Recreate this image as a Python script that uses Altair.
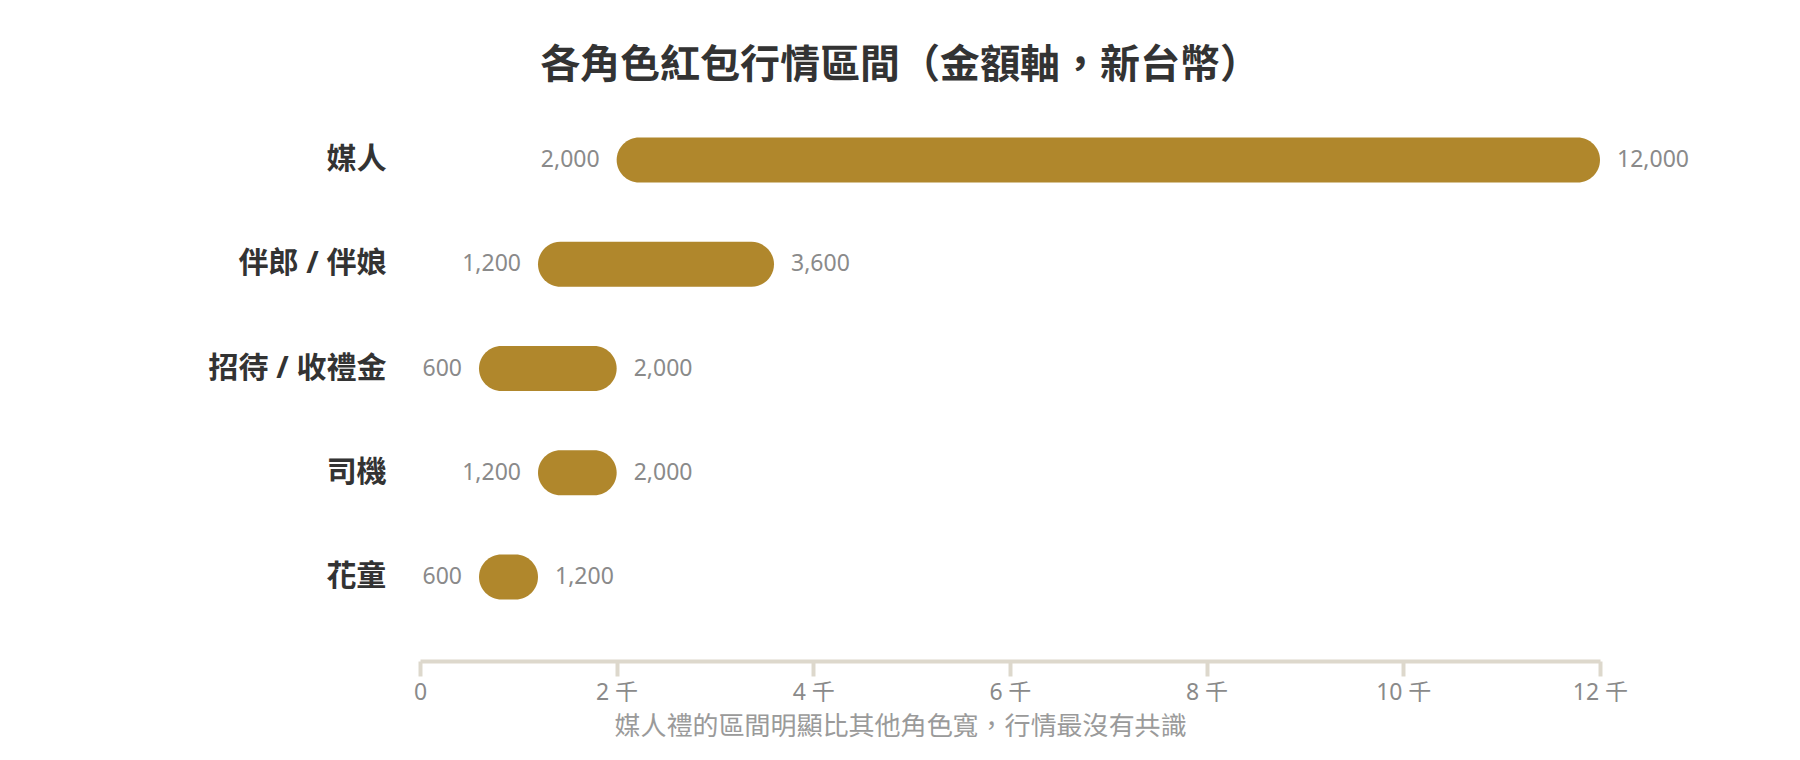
import altair as alt
import pandas as pd

roles = ["媒人", "伴郎 / 伴娘", "招待 / 收禮金", "司機", "花童"]
low = [2000, 1200, 600, 1200, 600]
high = [12000, 3600, 2000, 2000, 1200]

title_text = "各角色紅包行情區間（金額軸，新台幣）"
note_text = "媒人禮的區間明顯比其他角色寬，行情最沒有共識"

df = pd.DataFrame({"role": roles, "low": low, "high": high})
df["low_label"] = [f"{v:,}" for v in low]
df["high_label"] = [f"{v:,}" for v in high]

FONT = "'Noto Sans', 'Noto Sans TC', 'Noto Sans CJK TC', sans-serif"
GOLD = "#b0872c"
GREY = "#8a8a8a"

y_enc = alt.Y(
    "role:N",
    sort=roles,
    scale=alt.Scale(paddingInner=0.568, paddingOuter=0.284),
    axis=alt.Axis(
        title=None,
        domain=False,
        ticks=False,
        labelFont=FONT,
        labelFontSize=30,
        labelFontWeight="bold",
        labelColor="#333333",
        labelPadding=34,
    ),
)

x_scale = alt.Scale(domain=[0, 12000], nice=False, zero=True)

bars = alt.Chart(df).mark_bar(color=GOLD, cornerRadius=22.5).encode(
    x=alt.X(
        "low:Q",
        scale=x_scale,
        axis=alt.Axis(
            title=note_text,
            titleFont=FONT,
            titleFontSize=26,
            titleFontWeight="normal",
            titleColor="#9a9a9a",
            titleX=480,
            titleY=65,
            titleAlign="center",
            titleBaseline="middle",
            values=[0, 2000, 4000, 6000, 8000, 10000, 12000],
            labelExpr="datum.value == 0 ? '0' : (datum.value / 1000) + ' 千'",
            labelFont=FONT,
            labelFontSize=23,
            labelColor=GREY,
            labelPadding=5,
            labelFlush=False,
            domainColor="#ddd8cc",
            domainWidth=4,
            tickColor="#ddd8cc",
            tickWidth=4,
            tickSize=15,
            grid=False,
            offset=32,
        ),
    ),
    x2="high:Q",
    y=y_enc,
)

left_text = alt.Chart(df).mark_text(
    align="right", baseline="middle", dx=-17, font=FONT, fontSize=23, color=GREY
).encode(x=alt.X("low:Q", scale=x_scale), y=alt.Y("role:N", sort=roles), text="low_label:N")

right_text = alt.Chart(df).mark_text(
    align="left", baseline="middle", dx=17, font=FONT, fontSize=23, color=GREY
).encode(x=alt.X("high:Q", scale=x_scale), y=alt.Y("role:N", sort=roles), text="high_label:N")

chart = (
    alt.layer(bars, left_text, right_text)
    .properties(
        width=1180,
        height=521,
        background="white",
        autosize=alt.AutoSizeParams(type="none"),
        padding={"left": 412, "top": 100, "right": 190, "bottom": 120},
        title=alt.TitleParams(
            text=title_text,
            font=FONT,
            fontSize=40,
            fontWeight="bold",
            color="#333333",
            anchor="middle",
            frame="group",
            dx=-110,
            baseline="middle",
            offset=2,
        ),
    )
    .configure_view(stroke=None, strokeWidth=0)
)

chart.save("out.html", embed_options={"renderer": "svg", "actions": False})
